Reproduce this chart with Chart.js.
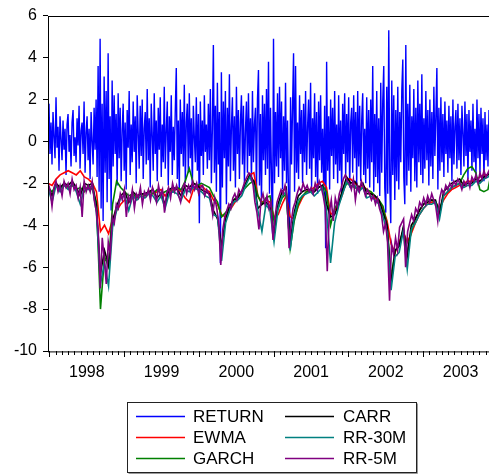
<!DOCTYPE html>
<html>
<head>
<meta charset="utf-8">
<script src="https://cdn.jsdelivr.net/npm/chart.js@4.4.1/dist/chart.umd.min.js"></script>
<style>
  body { margin: 0; overflow: hidden; background: #fff; }
  #wrap { width: 492px; height: 474px; }
</style>
</head>
<body>
<div id="wrap"><canvas id="myChart" width="492" height="474"></canvas></div>
<script>
// sample range, in years
const startYear = 1997.98;
const endYear = 2003.92;
const yearTicks = [1998, 1999, 2000, 2001, 2002, 2003];
const yTicks = [-10, -8, -6, -4, -2, 0, 2, 4, 6];

const seriesNames = ['RETURN', 'EWMA', 'GARCH', 'CARR', 'RR-30M', 'RR-5M'];
const seriesColors = ['#0000ff', '#ff0000', '#008000', '#000000', '#008080', '#800080'];

const returnVals = [
  0.4, 1.8, -0.6, 0.9, -1.1, 1.4, 0.2, -0.8, 2.1, -0.3,
  0.7, -1.4, 1.2, 0.1, -0.9, 1.0, -0.4, 0.6, -1.6, 0.8,
  1.3, -0.5, 0.3, -1.2, 0.9, 1.5, -0.7, 0.2, -1.0, 1.1,
  -0.2, 1.7, -1.3, 0.5, 0.9, -0.6, 1.9, -1.5, 0.4, 1.2,
  -0.9, 0.6, -1.8, 1.4, 0.0, -1.1, 1.6, -0.4, 2.0, -1.7,
  3.6, -2.4, 4.9, -3.2, 1.8, -3.8, 3.1, -1.5, 2.4, -2.9,
  4.2, -1.8, 1.2, -3.3, 2.9, -1.2, 2.2, -0.6, 1.3, -2.1,
  2.3, -0.8, 1.6, -1.9, 0.5, 1.8, -1.4, 0.9, -2.3, 1.5,
  -0.3, 2.4, -1.6, 0.8, -1.0, 1.9, -0.5, 1.2, -2.0, 2.2,
  0.4, -1.3, 1.7, -0.7, 2.0, -1.8, 0.6, 1.4, -1.1, 2.5,
  -0.9, 1.1, -2.2, 1.8, 0.3, -1.4, 2.3, -0.6, 1.0, -1.9,
  1.6, -0.4, 2.1, -1.7, 0.8, -1.0, 2.6, -1.3, 0.5, 1.9,
  -2.1, 1.2, -0.5, 2.2, -1.6, 0.7, -0.9, 1.5, 3.5, -1.8,
  1.0, -2.4, 2.0, -0.6, 1.4, -1.2, 2.7, -2.0, 0.9, 1.8,
  -1.5, 2.3, -0.8, 1.1, -2.3, 1.7, 0.2, -1.0, 2.1, -1.4,
  1.3, -3.9, 1.9, -0.7, 1.0, -1.6, 2.2, -0.5, 0.8, -1.3,
  1.8, -0.9, 2.5, -2.0, 0.6, 4.6, -1.5, 1.7, -2.4, 2.8,
  -1.1, 1.4, -5.8, 3.3, -2.2, 1.9, -0.8, 2.4, -3.0, 1.6,
  -1.2, 3.2, -1.9, 0.7, 2.1, -1.4, 1.2, -2.2, 2.6, -0.6,
  1.5, -1.8, 0.9, 2.2, -1.1, 1.7, -2.0, 0.5, 1.9, -1.5,
  2.3, -0.7, 1.1, -1.9, 2.4, -1.0, 0.8, 1.6, -2.6, 2.0,
  3.4, -2.1, 1.3, -3.0, 2.2, -0.9, 1.8, -1.6, 2.5, -1.3,
  3.8, -2.5, 1.6, -1.8, -4.4, 4.9, -2.0, 1.4, -1.2, 2.3,
  -1.7, 2.6, -0.8, 1.9, -2.3, 1.2, -1.4, 2.8, -2.0, 1.0,
  -2.8, -4.5, 2.1, -1.1, 1.6, 4.2, -2.4, 3.6, -1.5, 0.9,
  -1.8, 2.2, -0.6, 1.5, -2.0, 1.8, -1.0, 2.4, -1.6, 0.7,
  2.0, -1.3, 2.8, -2.2, 1.1, -0.8, 2.3, -1.7, 1.4, -2.5,
  1.9, -0.9, 2.2, -1.5, 0.6, -2.1, 1.7, -5.1, 3.8, -1.4,
  1.2, -2.3, 2.0, -0.7, 1.6, -1.8, 2.4, -1.1, 0.8, -2.0,
  2.2, -1.4, 1.0, -2.4, 1.8, -0.6, 2.3, -1.7, 1.3, -1.0,
  2.1, -2.2, 0.9, 1.6, -1.5, 2.2, -0.8, 1.4, -2.1, 2.4,
  -1.2, 1.7, -1.9, 1.0, 2.3, -1.6, 0.6, -2.0, 2.1, -1.3,
  1.5, -2.2, 2.0, -1.0, 3.6, -2.4, 1.3, -1.7, 2.4, -2.0,
  1.1, -2.6, 2.8, -1.5, 1.9, 3.6, -2.2, -3.4, 2.6, -2.5,
  5.3, -2.0, -3.9, 2.9, -1.6, 2.2, -2.8, 1.5, -1.9, 2.6,
  -2.3, 1.4, -1.0, 2.4, 3.9, -1.7, -3.0, 4.6, -2.1, 1.8,
  -1.4, 2.7, -2.4, 1.2, -0.8, 2.5, -1.9, 1.6, -2.2, 2.9,
  -1.0, 1.8, -1.6, 3.2, -2.0, 1.1, -1.3, 2.4, -0.9, 1.5,
  -2.1, 2.0, -1.2, 1.4, -1.8, 2.6, -0.7, 1.2, 3.5, -2.3,
  1.6, -1.4, 2.1, -1.0, 1.3, -1.7, 1.9, -0.6, 1.0, -1.5,
  1.7, -0.8, 1.2, -1.9, 2.0, -1.1, 0.7, 1.5, -1.3, 1.8,
  -0.9, 1.1, -1.6, 1.7, 0.4, -1.2, 1.9, -0.7, 1.3, -1.8,
  1.5, -0.5, 1.0, -1.4, 1.8, -1.0, 0.6, -1.6, 2.0, -0.8,
  1.3, -1.5, 1.6, -0.6, 1.1, -1.9, 1.4, -0.9, 0.8, -1.2,
  1.5, -0.7, 1.0, -1.1
];

const ewmaVals = [
  -2.0, -2.1, -1.8, -1.6, -1.5, -1.4, -1.5, -1.6, -1.4, -1.7,
  -1.8, -2.0, -2.4, -4.3, -4.0, -4.4, -3.7, -3.3, -3.0, -2.8,
  -2.9, -2.7, -2.6, -2.5, -2.6, -2.4, -2.5, -2.4, -2.3, -2.6,
  -2.4, -2.3, -2.2, -2.4, -2.7, -2.9, -2.3, -2.2, -2.1, -2.3,
  -2.4, -2.8, -3.0, -3.5, -3.6, -3.3, -3.0, -2.7, -2.4, -2.0,
  -1.6, -1.5, -2.6, -2.9, -2.8, -2.9, -3.6, -3.5, -3.0, -2.6,
  -3.6, -3.7, -3.1, -2.7, -2.4, -2.3, -2.2, -2.0, -1.9, -2.2,
  -3.5, -3.3, -3.0, -2.5, -1.8, -1.8, -2.0, -2.2, -2.1, -2.3,
  -2.5, -2.7, -2.9, -3.2, -3.8, -4.9, -5.3, -4.8, -4.3, -4.8,
  -4.4, -3.9, -3.5, -3.2, -3.0, -2.9, -2.9, -3.2, -2.8, -2.5,
  -2.3, -2.2, -2.1, -2.0, -1.9, -1.9, -1.8, -1.7, -1.6, -1.6,
  -1.5
];

const garchVals = [
  -2.2, -2.4, -2.1, -2.3, -2.0, -2.2, -2.1, -2.3, -2.2, -2.4,
  -2.1, -2.3, -2.9, -8.0, -5.5, -6.0, -3.0, -1.9, -2.2, -2.4,
  -2.6, -2.5, -2.7, -2.5, -2.6, -2.4, -2.5, -2.3, -2.5, -2.4,
  -2.3, -2.4, -2.2, -2.3, -1.9, -1.3, -2.0, -2.1, -2.0, -2.1,
  -2.2, -2.6, -2.9, -3.6, -3.4, -3.1, -2.8, -2.6, -2.4, -2.2,
  -2.0, -1.9, -2.6, -3.0, -2.7, -2.6, -3.8, -3.2, -2.7, -2.5,
  -5.1, -3.8, -3.0, -2.6, -2.4, -2.4, -2.3, -2.2, -2.1, -2.4,
  -4.0, -3.2, -2.9, -2.4, -2.0, -2.1, -2.2, -2.3, -2.2, -2.3,
  -2.4, -2.6, -2.8, -3.1, -4.0, -6.5, -5.2, -5.0, -4.2, -5.3,
  -4.3, -3.7, -3.3, -3.0, -2.8, -2.8, -2.9, -3.3, -2.6, -2.4,
  -2.2, -2.1, -2.0, -1.6, -1.3, -1.2, -1.5, -2.3, -2.4, -2.3,
  -1.3
];

const carrVals = [
  -2.1, -2.6, -2.0, -2.2, -2.0, -2.1, -1.9, -2.2, -2.6, -2.0,
  -2.1, -2.0, -3.1, -6.3, -5.2, -5.9, -3.8, -3.1, -2.6, -2.4,
  -2.9, -2.4, -2.6, -2.5, -2.5, -2.4, -2.3, -2.7, -2.5, -3.0,
  -2.3, -2.2, -2.3, -2.6, -2.1, -2.2, -2.0, -2.1, -2.3, -2.4,
  -2.5, -3.3, -3.7, -5.0, -3.7, -3.1, -2.8, -2.7, -2.4, -2.0,
  -1.6, -1.9, -3.2, -3.0, -2.9, -3.1, -4.4, -3.0, -2.4, -2.2,
  -4.8, -3.4, -2.6, -2.4, -2.3, -2.3, -2.4, -2.2, -2.1, -3.0,
  -3.6, -3.5, -3.0, -2.3, -1.7, -2.0, -1.9, -2.2, -2.0, -2.5,
  -2.5, -2.6, -2.8, -3.4, -4.0, -6.8, -5.2, -5.0, -4.1, -5.5,
  -4.0, -3.7, -3.3, -3.0, -2.9, -2.8, -2.8, -3.5, -2.4, -2.2,
  -2.0, -1.9, -1.8, -2.1, -2.0, -2.0, -1.8, -1.9, -1.7, -1.6,
  -1.4
];

const rr30Vals = [
  -2.2, -2.9, -2.1, -2.4, -2.1, -2.3, -2.0, -2.4, -3.0, -2.2,
  -2.3, -2.1, -3.4, -6.8, -5.8, -6.9, -4.1, -3.3, -2.7, -2.6,
  -3.3, -2.6, -2.8, -2.6, -2.7, -2.5, -2.6, -2.9, -2.6, -3.2,
  -2.5, -2.4, -2.5, -2.8, -2.3, -2.4, -2.2, -2.3, -2.4, -2.6,
  -2.7, -3.5, -3.6, -5.7, -3.9, -3.3, -2.9, -2.8, -2.6, -2.1,
  -1.7, -2.1, -3.3, -4.3, -3.0, -3.3, -4.8, -3.2, -2.6, -2.4,
  -5.2, -3.6, -2.8, -2.6, -2.5, -2.4, -2.6, -2.4, -2.2, -3.3,
  -5.8, -3.9, -3.1, -2.5, -1.9, -2.2, -2.1, -2.4, -2.2, -2.7,
  -2.6, -2.8, -3.0, -3.6, -4.3, -7.1, -5.5, -5.3, -4.3, -6.1,
  -4.2, -3.9, -3.5, -3.2, -3.0, -3.0, -2.9, -3.7, -2.6, -2.4,
  -2.2, -2.1, -2.0, -2.2, -2.1, -2.1, -1.9, -2.0, -1.8, -1.7,
  -1.5
];

const rr5Vals = [
  -2.0, -2.3, -3.1, -2.2, -1.9, -2.4, -2.1, -2.6, -1.9, -2.2,
  -2.0, -2.5, -1.8, -2.3, -2.1, -2.7, -2.2, -3.6, -1.9, -2.4,
  -2.1, -2.4, -1.9, -2.8, -3.3, -4.3, -7.0, -4.6, -5.6, -6.8,
  -4.8, -5.4, -3.6, -3.9, -3.0, -3.2, -2.5, -2.8, -2.3, -3.6,
  -2.6, -2.9, -2.3, -3.2, -2.5, -2.7, -2.2, -3.0, -2.4, -2.6,
  -2.3, -2.8, -2.2, -2.5, -2.9, -2.1, -2.6, -2.3, -3.4, -2.5,
  -2.2, -2.7, -2.0, -2.4, -2.1, -2.6, -2.9, -2.2, -2.0, -2.5,
  -2.1, -2.4, -1.9, -2.3, -2.0, -2.5, -2.2, -2.1, -2.6, -2.3,
  -2.5, -2.8, -3.5, -2.7, -3.2, -3.9, -5.9, -4.2, -3.6, -3.3,
  -3.0, -3.2, -2.7, -2.5, -2.8, -2.3, -2.5, -2.2, -1.9, -1.7,
  -1.5, -1.6, -2.0, -2.9, -3.4, -4.2, -2.8, -2.5, -3.0, -2.6,
  -3.2, -2.9, -4.7, -3.6, -2.9, -2.6, -2.3, -2.5, -2.1, -2.7,
  -5.1, -3.9, -3.2, -2.9, -2.5, -2.2, -2.4, -2.0, -2.3, -2.1,
  -2.4, -2.2, -2.5, -2.0, -2.3, -1.9, -2.2, -2.6, -3.2, -6.2,
  -3.4, -2.8, -3.8, -2.7, -3.1, -2.5, -2.2, -1.8, -1.6, -1.9,
  -2.0, -2.3, -1.8, -2.8, -2.1, -2.4, -1.9, -2.2, -2.6, -2.3,
  -2.5, -2.8, -2.6, -3.0, -2.7, -3.2, -3.5, -4.3, -3.9, -4.8,
  -7.6, -4.9, -5.4, -4.6, -5.2, -4.1, -3.9, -3.7, -6.0, -4.3,
  -3.9, -3.5, -3.8, -3.2, -3.4, -2.9, -3.1, -2.7, -3.0, -2.6,
  -2.9, -2.5, -2.8, -3.1, -3.8, -2.7, -2.3, -2.5, -2.1, -2.3,
  -2.0, -2.2, -1.9, -2.1, -1.8, -2.0, -2.3, -1.9, -2.1, -1.8,
  -2.2, -1.7, -1.9, -1.6, -2.0, -1.5, -1.8, -1.4, -1.7, -1.5,
  -1.3, -1.6
];

const allVals = [returnVals, ewmaVals, garchVals, carrVals, rr30Vals, rr5Vals];

// spread each series evenly over the sample period
function toPoints(vals) {
  const step = (endYear - startYear) / (vals.length - 1);
  return vals.map((v, i) => ({ x: startYear + i * step, y: v }));
}

const font = "'Liberation Sans', Arial, sans-serif";

const frame = {
  id: 'frame',
  afterDraw(chart) {
    const c = chart.ctx, a = chart.chartArea;
    const xs = chart.scales.x;
    c.save();
    c.strokeStyle = '#000';
    c.lineWidth = 1;
    c.strokeRect(Math.round(a.left) + 0.5, Math.round(a.top) + 0.5, a.right - a.left, a.bottom - a.top);
    // monthly ticks, longer at each new year
    c.beginPath();
    for (let m = 0; m <= 72; m++) {
      const px = Math.round(xs.getPixelForValue(1998 + m / 12)) + 0.5;
      if (px > a.right) break;
      const len = (m % 12 === 0) ? 6 : 4;
      c.moveTo(px, a.bottom);
      c.lineTo(px, a.bottom + len);
    }
    c.stroke();

    // legend box
    const bx = 127.5, by = 402.5, bw = 289, bh = 70;
    c.fillStyle = '#999';
    c.fillRect(bx + 1, by + bh, bw, 1.5);
    c.fillRect(bx + bw, by + 1, 1.5, bh);
    c.strokeStyle = '#222';
    c.strokeRect(bx, by, bw, bh);
    c.font = '17px ' + font;
    c.textBaseline = 'middle';
    chart.data.datasets.forEach((ds, k) => {
      const col = Math.floor(k / 3), row = k % 3;
      const lx = col === 0 ? 136 : 285;
      const tx = col === 0 ? 193 : 343;
      const ly = 416.5 + row * 21;
      c.strokeStyle = ds.borderColor;
      c.lineWidth = 1.3;
      c.beginPath();
      c.moveTo(lx, ly);
      c.lineTo(lx + 49, ly);
      c.stroke();
      c.fillStyle = '#000';
      c.fillText(ds.label, tx, ly + 1);
    });
    c.restore();
  }
};

new Chart(document.getElementById('myChart'), {
  type: 'line',
  data: {
    datasets: seriesNames.map((name, k) => ({
      label: name,
      data: toPoints(allVals[k]),
      borderColor: seriesColors[k],
      borderWidth: k === 0 ? 1.4 : 1.6,
      pointRadius: 0,
      tension: 0,
      order: seriesNames.length - k
    }))
  },
  options: {
    responsive: false,
    animation: false,
    layout: { padding: { top: 15, left: 0, right: 0, bottom: 0 } },
    plugins: { legend: { display: false }, tooltip: { enabled: false } },
    scales: {
      x: {
        type: 'linear',
        min: startYear,
        max: endYear,
        afterBuildTicks: s => { s.ticks = yearTicks.map(y => ({ value: y + 0.5 })); },
        afterFit: s => { s.height = 123; },
        grid: { display: false, drawTicks: false },
        border: { display: false },
        ticks: {
          autoSkip: false,
          maxRotation: 0,
          padding: 12,
          color: '#000',
          font: { size: 16, family: font },
          callback: v => String(Math.floor(v))
        }
      },
      y: {
        min: -10,
        max: 6,
        afterBuildTicks: s => { s.ticks = yTicks.map(v => ({ value: v })); },
        afterFit: s => { s.width = 48; },
        grid: { drawOnChartArea: false, tickLength: 5, color: '#000' },
        border: { display: false },
        ticks: {
          padding: 6,
          color: '#000',
          font: { size: 16, family: font }
        }
      }
    }
  },
  plugins: [frame]
});
</script>
</body>
</html>
